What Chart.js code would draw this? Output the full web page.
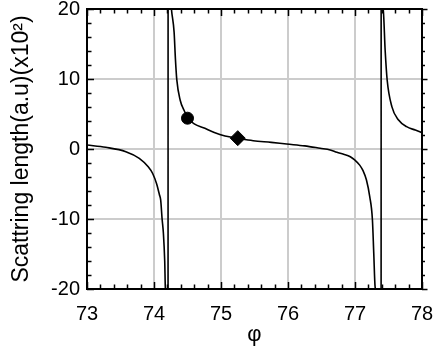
<!DOCTYPE html>
<html>
<head>
<meta charset="utf-8">
<script src="https://cdn.jsdelivr.net/npm/chart.js@4.4.0/dist/chart.umd.min.js"></script>
<style>
html, body { margin: 0; padding: 0; background: #fff; }
#wrap { width: 436px; height: 351px; }
</style>
</head>
<body>
<div id="wrap"><canvas id="chart" width="436" height="351"></canvas></div>
<script>
// curve (values beyond +-20 are the jumps at the poles)
const phi = [73.0, 73.28, 73.58, 73.78, 73.91, 73.98, 74.04, 74.08, 74.1, 74.12, 74.14, 74.16, 74.17, 74.18, 74.205,
  74.215, 74.25, 74.26, 74.3, 74.32, 74.34, 74.39, 74.45, 74.51, 74.6, 74.76, 74.9, 75.06, 75.26, 75.48, 75.75,
  75.98, 76.25, 76.48, 76.63, 76.73, 76.83, 76.93, 77.0, 77.07, 77.12, 77.17, 77.22, 77.26, 77.28, 77.3, 77.32,
  77.385, 77.395, 77.41, 77.42, 77.45, 77.48, 77.55, 77.65, 77.77, 77.9, 78.0];
const scatLen = [0.57, 0.24, -0.38, -1.33, -2.5, -3.5, -5.0, -6.5, -7.3, -9.9, -12, -16, -20, -26, -400,
  400, 26, 20, 16.7, 12.8, 9.9, 7.0, 5.5, 4.38, 3.6, 2.95, 2.35, 1.86, 1.52, 1.19, 0.95,
  0.71, 0.45, 0.1, -0.14, -0.48, -0.75, -1.1, -1.6, -2.3, -3.1, -4.4, -6.8, -10.1, -14.9, -19.7, -26,
  -400, 400, 24, 20, 14.1, 9.86, 6.05, 4.14, 3.19, 2.7, 2.33];

// the two marked points
const circlePhi = [74.5];
const circleLen = [4.4];
const diamondPhi = [75.25];
const diamondLen = [1.55];

const xTicks = [73, 74, 75, 76, 77, 78];
const yTicks = [-20, -10, 0, 10, 20];
const xMinorStep = 0.2;
const yMinorStep = 2;

function toPoints(xs, ys) {
    return xs.map((x, i) => ({ x: x, y: ys[i] }));
}

// frame + small ticks (inside on left/top/bottom, outside on right)
const frameTicks = {
    id: 'frameTicks',
    afterDraw(chart) {
        const ctx = chart.ctx;
        const xs = chart.scales.x;
        const ys = chart.scales.y;
        const a = chart.chartArea;
        ctx.save();
        ctx.strokeStyle = '#000';
        ctx.lineWidth = 1.5;
        ctx.beginPath();
        const nx = Math.round((xTicks[xTicks.length - 1] - xTicks[0]) / xMinorStep);
        for (let i = 0; i <= nx; i++) {
            const v = xTicks[0] + i * xMinorStep;
            const px = Math.round(xs.getPixelForValue(v)) + 0.5;
            const len = (i % 5 === 0) ? 7 : 4.5;
            ctx.moveTo(px, a.bottom);
            ctx.lineTo(px, a.bottom - len);
            ctx.moveTo(px, a.top);
            ctx.lineTo(px, a.top + len);
        }
        const ny = Math.round((yTicks[yTicks.length - 1] - yTicks[0]) / yMinorStep);
        for (let i = 0; i <= ny; i++) {
            const v = yTicks[0] + i * yMinorStep;
            const py = Math.round(ys.getPixelForValue(v)) + 0.5;
            const len = (i % 5 === 0) ? 7 : 4.5;
            ctx.moveTo(a.left, py);
            ctx.lineTo(a.left + len, py);
            ctx.moveTo(a.right, py);
            ctx.lineTo(a.right + len - 1.5, py);
        }
        ctx.stroke();
        ctx.lineWidth = 2;
        ctx.strokeRect(a.left, a.top, a.right - a.left, a.bottom - a.top);
        ctx.restore();
    }
};

const ctx = document.getElementById('chart').getContext('2d');
new Chart(ctx, {
    type: 'line',
    data: {
        datasets: [
            {
                data: toPoints(phi, scatLen),
                borderColor: '#000',
                borderWidth: 1.6,
                pointRadius: 0,
                cubicInterpolationMode: 'monotone',
                clip: 0,
                order: 2
            },
            {
                type: 'scatter',
                data: toPoints(circlePhi, circleLen),
                pointStyle: 'circle',
                pointRadius: 6,
                backgroundColor: '#000',
                borderColor: '#000',
                order: 1
            },
            {
                type: 'scatter',
                data: toPoints(diamondPhi, diamondLen),
                pointStyle: 'rectRot',
                pointRadius: 7.5,
                backgroundColor: '#000',
                borderColor: '#000',
                order: 1
            }
        ]
    },
    options: {
        responsive: false,
        animation: false,
        layout: { padding: { top: 9, right: 14, left: 0, bottom: 0 } },
        plugins: {
            legend: { display: false },
            tooltip: { enabled: false }
        },
        scales: {
            x: {
                type: 'linear',
                min: 73,
                max: 78,
                afterBuildTicks: s => { s.ticks = xTicks.map(v => ({ value: v })); },
                afterFit: s => { s.height = 62; s.paddingLeft = 0; s.paddingRight = 0; },
                grid: { color: '#cccccc', lineWidth: 2, drawTicks: false },
                border: { display: false },
                ticks: {
                    padding: 13,
                    color: '#000',
                    font: { family: 'Liberation Sans', size: 20 },
                    maxRotation: 0,
                    autoSkip: false
                },
                title: {
                    display: true,
                    text: 'φ',
                    color: '#000',
                    font: { family: 'Liberation Sans', size: 22 },
                    padding: { top: 0, bottom: 3 }
                }
            },
            y: {
                type: 'linear',
                min: -20,
                max: 20,
                afterBuildTicks: s => { s.ticks = yTicks.map(v => ({ value: v })); },
                afterFit: s => { s.width = 87; s.paddingTop = 0; s.paddingBottom = 0; },
                grid: { color: '#cccccc', lineWidth: 2, drawTicks: false },
                border: { display: false },
                ticks: {
                    padding: 7,
                    color: '#000',
                    font: { family: 'Liberation Sans', size: 20 },
                    autoSkip: false
                },
                title: {
                    display: true,
                    text: 'Scattring length(a.u)(x10²)',
                    color: '#000',
                    font: { family: 'Liberation Sans', size: 23 },
                    padding: { top: 8, bottom: 0 }
                }
            }
        }
    },
    plugins: [frameTicks]
});
</script>
</body>
</html>
